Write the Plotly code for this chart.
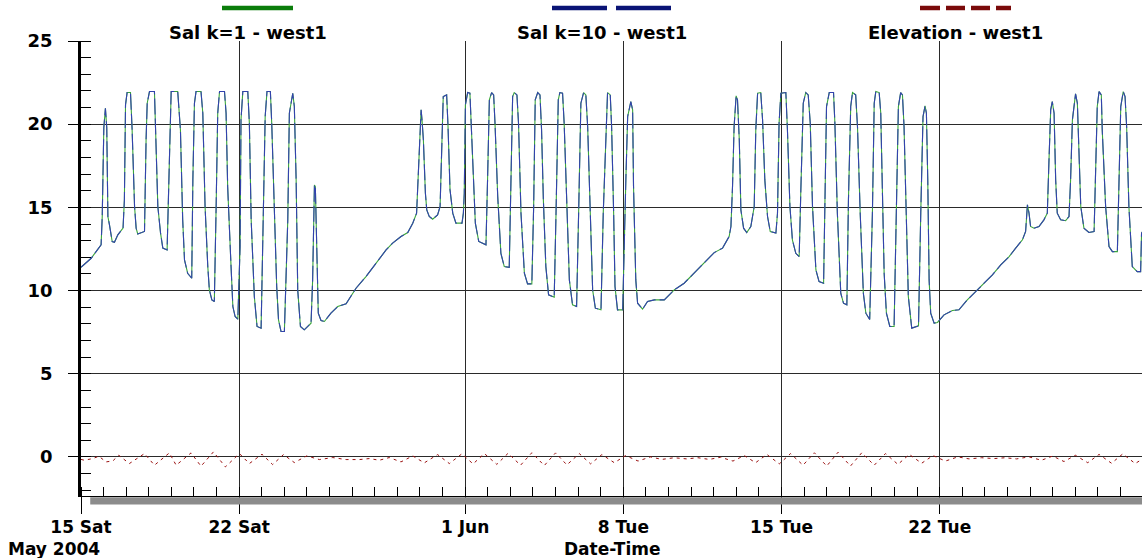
import pandas as pd
import plotly.graph_objects as go

# ---------------- data ----------------
START = "2004-05-15"

# salinity time axis, days after 15 May 2004 00:00
sal_days = [
    0.00, 0.45, 0.89, 0.94, 1.01, 1.08, 1.14, 1.19, 1.26, 1.38, 1.48, 1.63, 1.86, 1.92, 1.97, 2.04, 2.19, 2.26,
    2.37, 2.44, 2.51, 2.81, 2.88, 2.93, 3.03, 3.25, 3.30, 3.40, 3.52, 3.62, 3.81, 3.88, 3.99, 4.28, 4.40, 4.50,
    4.58, 4.72, 4.90, 4.95, 5.02, 5.09, 5.31, 5.39, 5.49, 5.61, 5.68, 5.79, 5.90, 5.98, 6.05, 6.13, 6.35, 6.42,
    6.49, 6.64, 6.72, 6.82, 6.94, 7.04, 7.08, 7.16, 7.38, 7.45, 7.53, 7.67, 7.79, 7.97, 8.04, 8.15, 8.23, 8.38,
    8.44, 8.56, 8.66, 8.74, 8.85, 9.00, 9.15, 9.22, 9.37, 9.44, 9.52, 9.59, 9.71, 9.88, 10.18, 10.25, 10.33,
    10.37, 10.43, 10.50, 10.62, 10.77, 11.06, 11.36,
    11.73, 12.17, 12.61, 13.05, 13.50, 13.79, 14.16, 14.46, 14.68, 14.85, 14.90, 14.97, 15.05, 15.09, 15.15,
    15.24, 15.30, 15.41, 15.56, 15.78, 15.89, 15.97, 16.03, 16.18, 16.24, 16.33, 16.45, 16.59, 16.86, 16.92,
    16.96, 17.01, 17.11, 17.21, 17.27, 17.36, 17.45, 17.60, 17.92, 17.99, 18.07, 18.17, 18.26, 18.32, 18.44,
    18.58, 18.73, 18.95, 19.03, 19.10, 19.17, 19.29, 19.36, 19.47, 19.62, 19.76, 19.95, 20.03, 20.10, 20.21,
    20.31, 20.38, 20.46, 20.57, 20.69, 20.94, 21.02, 21.12, 21.19, 21.31, 21.38, 21.49, 21.61, 21.75, 21.93,
    22.02, 22.12, 22.24, 22.34, 22.42, 22.52, 22.64, 22.76, 23.01, 23.11, 23.23,
    23.30, 23.42, 23.48, 23.57, 23.63, 23.74, 23.97, 24.11, 24.19, 24.33, 24.41, 24.45, 24.55, 24.63, 24.85,
    25.07, 25.37, 25.81, 26.25, 26.69, 27.13, 27.58, 28.02, 28.39, 28.68, 28.76, 28.83, 28.90, 28.99, 29.05,
    29.13, 29.20, 29.32, 29.46, 29.64, 29.79, 29.86, 29.94, 30.08, 30.16, 30.26, 30.38, 30.50, 30.75, 30.82,
    30.89, 30.97, 31.19, 31.26, 31.37, 31.48, 31.63, 31.78, 31.85, 31.96, 32.07, 32.18, 32.27, 32.37, 32.52,
    32.66, 32.86, 32.91, 32.99, 33.11, 33.30, 33.36, 33.47, 33.62, 33.74, 33.89, 33.96, 34.06, 34.14, 34.28,
    34.36, 34.48, 34.62, 34.73, 34.90,
    35.02, 35.10, 35.17, 35.32, 35.39, 35.46, 35.54, 35.64, 35.79, 35.98, 36.08, 36.17, 36.27, 36.35, 36.42,
    36.50, 36.61, 36.76, 37.06, 37.16, 37.26, 37.35, 37.41, 37.47, 37.53, 37.60, 37.75, 37.90, 38.19, 38.56,
    38.85, 39.22, 39.59, 39.96, 40.33, 40.70, 41.07, 41.36, 41.66, 41.80, 41.88, 41.95, 42.02, 42.17, 42.39,
    42.61, 42.76, 42.83, 42.91, 42.98, 43.06, 43.13, 43.20, 43.35, 43.57, 43.72, 43.79, 43.87, 44.01, 44.09,
    44.16, 44.24, 44.38, 44.60, 44.83, 44.90, 44.97, 45.05, 45.15, 45.19, 45.34, 45.49, 45.64, 45.86, 45.93,
    46.01, 46.12, 46.20, 46.27, 46.37, 46.52, 46.74, 46.89, 46.93, 47.00,
]

sal_k1 = [
    11.4, 11.94, 12.75, 14.45, 19.8, 20.96, 19.8, 14.45, 13.95, 12.95, 12.9, 13.35, 13.75, 15.45, 21.16, 21.9, 21.9, 19.76,
    15.05, 13.75, 13.4, 13.55, 19.06, 21.26, 21.96, 21.96, 19.66, 15.05, 13.45, 12.55, 12.44, 16.65, 21.96, 21.96, 19.66, 14.25,
    11.84, 11.04, 10.74, 16.65, 21.26, 21.96, 21.96, 20.66, 15.05, 11.44, 10.04, 9.44, 9.34, 15.05, 20.66, 21.96, 21.96, 20.66,
    16.25, 11.44, 9.04, 8.44, 8.28, 12.65, 20.26, 21.96, 21.96, 20.06, 14.25, 9.64, 7.84, 7.74, 13.05, 20.46, 21.96, 21.96,
    20.06, 14.65, 10.24, 8.24, 7.54, 7.54, 14.25, 20.66, 21.86, 21.06, 16.65, 10.04, 7.84, 7.64, 8.04, 10.64, 16.35,
    16.25, 12.44, 8.64, 8.2, 8.14, 8.64, 9.04,
    9.2, 10.14, 10.84, 11.64, 12.44, 12.85, 13.25, 13.49, 14.05, 14.65, 16.05, 18.46, 20.86, 20.26, 19.06,
    15.85, 14.85, 14.45, 14.29, 14.55, 15.05, 18.86, 21.66, 21.76, 19.9, 16.05, 14.65, 14.05, 14.05, 14.65,
    15.85, 21.16, 21.9, 21.86, 19.86, 16.65, 14.05, 12.95, 12.75, 16.65, 21.46, 21.9, 21.76, 20.06, 15.65,
    12.24, 11.44, 11.4, 16.65, 21.66, 21.9, 21.76, 20.06, 14.65, 11.04, 10.4, 10.4, 15.05, 21.46, 21.9,
    21.76, 19.66, 15.45, 11.44, 9.74, 9.6, 14.65, 21.46, 21.9, 21.86, 20.06, 15.05, 10.64, 9.14, 9.04,
    14.65, 21.26, 21.9, 21.76, 19.86, 15.05, 10.04, 8.94, 8.84, 14.65, 20.06,
    21.9, 21.76, 19.86, 14.65, 10.24, 8.84, 8.84, 16.65, 20.46, 21.36, 20.86, 16.25, 10.64, 9.24, 8.88,
    9.34, 9.44, 9.44, 10.04, 10.44, 11.04, 11.68, 12.28, 12.55, 13.25, 13.85, 16.25, 19.86, 21.7, 21.46,
    19.06, 14.85, 13.75, 13.49, 13.85, 15.05, 19.66, 21.86, 21.9, 20.26, 16.65, 14.45, 13.55, 13.45, 14.65,
    20.06, 21.86, 21.9, 19.66, 15.05, 13.05, 12.24, 12.04, 15.85, 21.26, 21.9, 21.76, 20.06, 15.05, 11.24,
    10.54, 10.44, 15.05, 21.06, 21.9, 21.9, 20.06, 14.65, 9.84, 9.24, 9.14, 15.45, 21.06, 21.9, 21.76,
    19.86, 14.65, 9.84, 8.64, 8.26,
    14.65, 21.26, 21.96, 21.9, 20.66, 15.65, 11.04, 8.64, 7.84, 7.84, 15.05, 21.06, 21.9, 21.76, 19.86,
    15.05, 9.64, 7.74, 7.88, 14.65, 20.46, 21.1, 20.66, 16.65, 10.64, 8.64, 8.04, 8.08, 8.54, 8.8,
    8.84, 9.44, 9.94, 10.44, 10.94, 11.54, 12.04, 12.55, 13.05, 13.55, 15.15, 14.65, 13.85, 13.75, 13.85,
    14.25, 14.65, 17.66, 20.86, 21.36, 20.66, 16.65, 14.65, 14.25, 14.2, 14.45, 16.65, 20.26, 21.82, 21.26,
    18.66, 15.05, 13.75, 13.49, 13.55, 16.65, 21.06, 21.96, 21.76, 19.66, 15.05, 12.65, 12.34, 12.34, 16.65,
    21.06, 21.96, 21.66, 19.86, 15.05, 11.44, 11.14, 11.14, 13.45, 13.6,
]

# the bottom-layer series coincides with the top one everywhere on the chart
sal_k10 = list(sal_k1)

elev_days = [
    0.00, 0.15, 0.52, 0.79, 1.11, 1.41, 1.67, 2.14, 2.81, 3.25, 3.91, 4.21, 4.87, 5.31, 5.86, 6.39, 7.01, 7.45,
    8.01, 8.48, 8.96, 9.44, 9.99, 10.55, 11.14, 11.73, 12.32, 12.76, 13.20, 13.64, 14.16, 14.68, 15.19, 15.78,
    16.30, 16.85, 17.35, 17.85, 18.40, 18.90, 19.45, 19.95, 20.50, 21.00, 21.50, 22.05, 22.55, 23.05, 23.60,
    24.10, 24.65, 25.20, 25.70, 26.25, 26.80, 27.30, 27.80, 28.30, 28.85, 29.35, 29.85, 30.35, 30.90, 31.40,
    31.95, 32.45, 33.00, 33.50, 34.05, 34.55, 35.10, 35.60, 36.15, 36.65, 37.20, 37.70, 38.25, 38.80, 39.30,
    39.85, 40.40, 40.90, 41.40, 41.95, 42.50, 43.00, 43.50, 44.00, 44.55, 45.05, 45.60, 46.10, 46.65, 47.00,
]
elevation = [
    -0.15, -0.2, -0.1, 0.04, -0.3, -0.24, 0.1, -0.4, 0.2, -0.5, 0.24, -0.5, 0.24, -0.56, 0.3, -0.6, 0.2, -0.4,
    0.16, -0.46, 0.14, -0.34, 0.06, -0.16, -0.04, -0.16, -0.16, -0.1, -0.2, -0.04, -0.3, 0.06, -0.36, 0.14,
    -0.4, 0.18, -0.42, 0.2, -0.45, 0.22, -0.5, 0.25, -0.52, 0.24, -0.48, 0.2, -0.42, 0.14, -0.35,
    0.08, -0.25, 0.0, -0.15, -0.05, -0.12, -0.05, -0.15, -0.02, -0.25, 0.08, -0.35, 0.15, -0.42, 0.2,
    -0.5, 0.25, -0.55, 0.28, -0.55, 0.25, -0.5, 0.2, -0.45, 0.15, -0.38, 0.08, -0.25, 0.0, -0.12,
    -0.05, -0.1, -0.05, -0.12, 0.0, -0.2, 0.05, -0.28, 0.1, -0.35, 0.15, -0.38, 0.18, -0.4, -0.1,
]

tick_dates = ["2004-05-15", "2004-05-22", "2004-06-01", "2004-06-08", "2004-06-15", "2004-06-22"]
tick_labels = ["15 Sat", "22 Sat", "1 Jun", "8 Tue", "15 Tue", "22 Tue"]
y_ticks = [0, 5, 10, 15, 20, 25]
legend_names = ["Sal k=1 - west1", "Sal k=10 - west1", "Elevation - west1"]

# ---------------- figure ----------------
start = pd.Timestamp(START)
def to_time(days):
    return [start + pd.Timedelta(days=d) for d in days]

FONT = "DejaVu Sans"
fig = go.Figure()
fig.add_trace(go.Scatter(x=to_time(sal_days), y=sal_k1, mode="lines", name=legend_names[0],
                         line=dict(color="#3aa63a", width=1.1), showlegend=False))
fig.add_trace(go.Scatter(x=to_time(sal_days), y=sal_k10, mode="lines", name=legend_names[1],
                         line=dict(color="#3342ae", width=1.1, dash="16px,4px"), showlegend=False))
fig.add_trace(go.Scatter(x=to_time(elev_days), y=elevation, mode="lines", name=legend_names[2],
                         line=dict(color="#9b1010", width=1, dash="3px,4px"), showlegend=False))

x_end = start + pd.Timedelta(days=46.95)

fig.update_layout(
    width=1143, height=558,
    margin=dict(l=81, r=1, t=41, b=62),
    paper_bgcolor="white", plot_bgcolor="white",
    font=dict(family=FONT, size=18, color="black", weight="bold"),
    showlegend=False,
)
fig.update_xaxes(
    type="date", range=[start, x_end],
    tickmode="array", tickvals=tick_dates, ticktext=tick_labels,
    ticks="outside", ticklen=17, tickcolor="black", tickwidth=1,
    showgrid=True, gridcolor="#2a2a2a", gridwidth=1,
    showline=True, linecolor="black", linewidth=1,
    zeroline=False,
    tickfont=dict(family=FONT, size=17, color="black", weight="bold"),
    ticklabelstandoff=-1,
    minor=dict(ticks="inside", ticklen=9, tickcolor="black", tickwidth=1,
               tickmode="linear", tick0=START, dtick=86400000, showgrid=False),
)
fig.update_yaxes(
    range=[-2.35, 25],
    tickmode="array", tickvals=y_ticks,
    ticks="outside", ticklen=10, tickcolor="black", tickwidth=1,
    showgrid=True, gridcolor="#2a2a2a", gridwidth=1,
    showline=True, linecolor="black", linewidth=2.5,
    zeroline=False,
    tickfont=dict(family=FONT, size=18, color="black", weight="bold"),
    ticklabelstandoff=12,
    minor=dict(ticks="inside", ticklen=10, tickcolor="black", tickwidth=1,
               tickmode="linear", tick0=0, dtick=1, showgrid=False),
)

# grey shadow bar under the time axis
fig.add_shape(type="rect", xref="paper", yref="paper", x0=0.0087, x1=1.0,
              y0=-8.5 / 455, y1=-1.2 / 455, line=dict(width=0), fillcolor="#8c8c8c", layer="above")

# custom legend: sample line above the label
legend_text_x = [247.5, 602, 955]
for name, cx in zip(legend_names, legend_text_x):
    fig.add_annotation(text=name, xref="paper", yref="paper",
                       x=(cx - 81) / 1061, y=1, yshift=41 - 32, xanchor="center", yanchor="middle",
                       showarrow=False, font=dict(family=FONT, size=18, color="black", weight="bold"))

def px_x(px):
    return (px - 81) / 1061
def px_y(py):
    return (558 - 62 - py) / 455

fig.add_shape(type="line", xref="paper", yref="paper", x0=px_x(222), x1=px_x(293), y0=px_y(8), y1=px_y(8),
              line=dict(color="#0b7d0b", width=4.5))
for a, b in [(552, 607), (616, 671)]:
    fig.add_shape(type="line", xref="paper", yref="paper", x0=px_x(a), x1=px_x(b), y0=px_y(8), y1=px_y(8),
                  line=dict(color="#0a1475", width=4.5))
for a, b in [(920, 940), (946, 965), (971, 990), (996, 1011)]:
    fig.add_shape(type="line", xref="paper", yref="paper", x0=px_x(a), x1=px_x(b), y0=px_y(8), y1=px_y(8),
                  line=dict(color="#7a0a0a", width=4.5))

# second line of the time axis
fig.add_annotation(text="May 2004", xref="paper", yref="paper", x=px_x(6), y=0, yshift=-(549 - 496),
                   xanchor="left", yanchor="middle", showarrow=False,
                   font=dict(family=FONT, size=17, color="black", weight="bold"))
fig.add_annotation(text="Date-Time", xref="paper", yref="paper", x=px_x(612), y=0, yshift=-(549 - 496),
                   xanchor="center", yanchor="middle", showarrow=False,
                   font=dict(family=FONT, size=17, color="black", weight="bold"))

fig.write_html("out.html")
